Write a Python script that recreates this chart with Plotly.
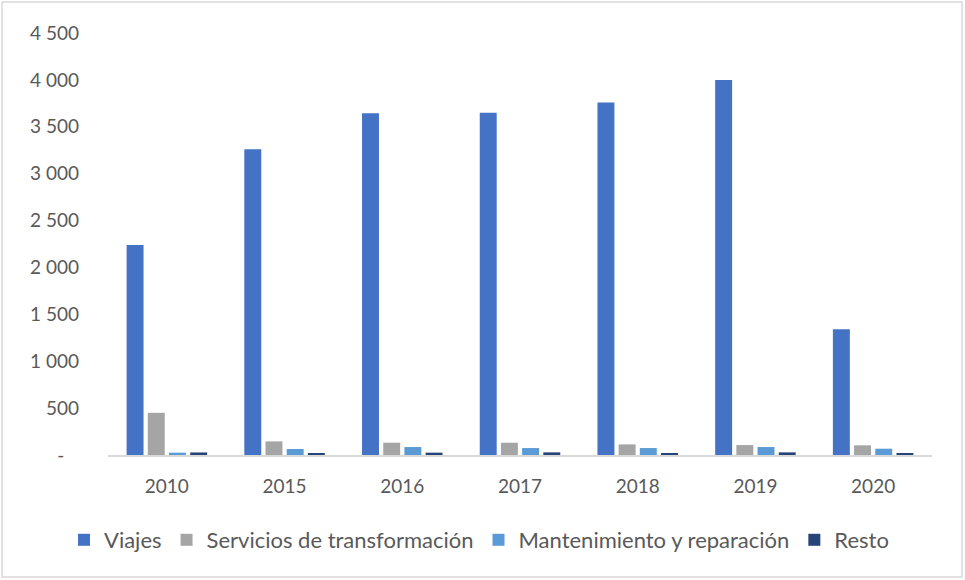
import plotly.graph_objects as go

years = ["2010", "2015", "2016", "2017", "2018", "2019", "2020"]
viajes = [2240, 3260, 3645, 3650, 3760, 4000, 1340]
servicios = [450, 145, 131, 131, 113, 106, 103]
mantenimiento = [25, 64, 85, 74, 74, 85, 67]
resto = [27, 20, 25, 28, 20, 28, 20]

series = [
    ("Viajes", viajes, "#4472C4"),
    ("Servicios de transformación", servicios, "#A5A5A5"),
    ("Mantenimiento y reparación", mantenimiento, "#5B9BD5"),
    ("Resto", resto, "#264478"),
]

ytick_vals = [0, 500, 1000, 1500, 2000, 2500, 3000, 3500, 4000, 4500]
ytick_text = ["-\u00a0\u00a0\u00a0", "500", "1 000", "1 500", "2 000", "2 500", "3 000", "3 500", "4 000", "4 500"]

fig = go.Figure()
for name, vals, color in series:
    fig.add_trace(go.Bar(name=name, x=years, y=vals, marker=dict(color=color, line=dict(width=0))))

FONT = "Lato, 'Liberation Sans', sans-serif"
W, H = 965, 580
L, R, T, B = 108, 33, 33, 125
pw, ph = W - L - R, H - T - B

fig.update_layout(
    width=W, height=H,
    margin=dict(l=L, r=R, t=T, b=B, autoexpand=False),
    paper_bgcolor="white", plot_bgcolor="white",
    barmode="group", bargap=0.28, bargroupgap=0.2,
    font=dict(family=FONT, size=19, color="#595959"),
    showlegend=True,
    legend=dict(orientation="h", xref="paper", yref="paper",
                x=(64 - L) / pw, xanchor="left", y=(H - B - 540) / ph, yanchor="middle",
                font=dict(size=22, color="#595959"), itemwidth=30, traceorder="normal",
                bgcolor="rgba(0,0,0,0)"),
    xaxis=dict(showgrid=False, showline=True, linecolor="#D9D9D9", linewidth=1.5,
               ticks="", tickfont=dict(size=19, color="#595959"), ticklabelstandoff=13),
    yaxis=dict(range=[0, 4500], tickvals=ytick_vals, ticktext=ytick_text, showgrid=False,
               zeroline=False, showline=False, ticks="", tickfont=dict(size=19, color="#595959"),
               ticklabelstandoff=28),
    shapes=[dict(type="rect", xref="paper", yref="paper",
                 x0=(2 - L) / pw, x1=(962 - L) / pw,
                 y0=(H - B - 577) / ph, y1=(H - B - 2) / ph,
                 line=dict(color="#D9D9D9", width=1.5), fillcolor="rgba(0,0,0,0)")],
)

fig.write_html("out.html", config={"displayModeBar": False},
               post_script="document.body.style.margin='0';document.body.style.overflow='hidden';")
